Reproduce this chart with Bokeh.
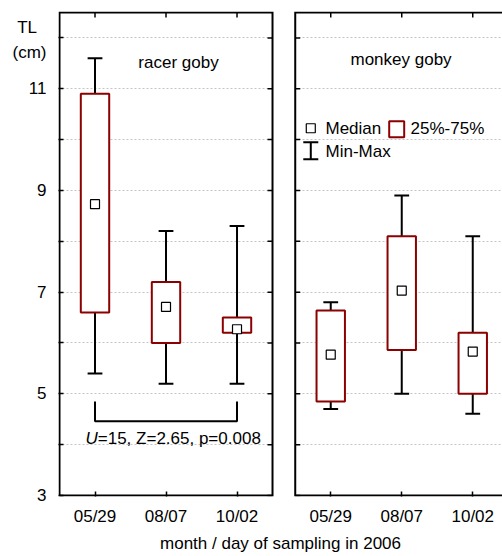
from bokeh.plotting import figure
from bokeh.models import Range1d, FixedTicker, Label, Title
from bokeh.embed import file_html
from bokeh.resources import INLINE

# ---------------- data ----------------
dates = ["05/29", "08/07", "10/02"]
species = ["racer goby", "monkey goby"]

racer_min = [5.40, 5.20, 5.20]
racer_q1 = [6.60, 6.00, 6.20]
racer_med = [8.73, 6.71, 6.27]
racer_q3 = [10.90, 7.20, 6.50]
racer_max = [11.60, 8.20, 8.30]

monkey_min = [4.70, 5.00, 4.61]
monkey_q1 = [4.85, 5.86, 5.00]
monkey_med = [5.77, 7.03, 5.83]
monkey_q3 = [6.64, 8.10, 6.20]
monkey_max = [6.80, 8.90, 8.10]

y_labeled = [3, 5, 7, 9, 11]
y_all = [3, 4, 5, 6, 7, 8, 9, 10, 11, 12]
y_title = ["TL", "(cm)"]
x_title = "month / day of sampling in 2006"
stats_text = "=15, Z=2.65, p=0.008"
compare_idx = (0, 2)  # racer goby 05/29 vs 10/02
legend_texts = ["Median", "25%-75%", "Min-Max"]

# ---------------- layout / style ----------------
FONT = "Liberation Sans"
FS = "17px"
BOX_RED = "#8b0000"
PANEL_OFF = [0.0, 3.32]
PANEL_W = 3.0
Y0, Y1 = 3.0, 12.5
X_END = 6.239
BOX_HALF = 0.2
CAP_HALF = 0.104
PXX, PXY = 71.0, 51.26  # px per unit (used only for 1px frame margins)

p = figure(width=502, height=556,
           x_range=Range1d(-1 / PXX, X_END), y_range=Range1d(Y0 - 1 / PXY, Y1 + 1 / PXY),
           output_backend="svg", toolbar_location=None,
           min_border_left=58, min_border_right=0,
           min_border_top=11, min_border_bottom=56)
p.outline_line_color = None
p.xgrid.visible = False
p.ygrid.ticker = FixedTicker(ticks=y_all)
p.ygrid.grid_line_color = "#c4c4c4"
p.ygrid.grid_line_dash = "2 2"
p.ygrid.grid_line_width = 1

# category positions
xcats = []
xlabels = {}
for off in PANEL_OFF:
    for i, d in enumerate(dates):
        xv = round(off + i + 0.5, 4)
        xcats.append(xv)
        xlabels[xv] = d

# left y axis: numbers plus the "TL (cm)" title as tick labels
TL_Y = [12.207, 11.706]
ylabels = {v: str(v) for v in y_labeled}
ylabels[TL_Y[0]] = y_title[0] + "\u00a0\u00a0"
ylabels[TL_Y[1]] = y_title[1]
ya = p.yaxis[0]
ya.ticker = FixedTicker(ticks=y_labeled + TL_Y, minor_ticks=y_all)
ya.major_label_overrides = ylabels
ya.axis_line_color = None
ya.major_tick_in = 0
ya.major_tick_out = 0
ya.minor_tick_in = 5
ya.minor_tick_out = 0
ya.minor_tick_line_width = 1.5
ya.major_label_standoff = 12
ya.major_label_text_font = FONT
ya.major_label_text_font_size = FS
ya.major_label_text_color = "black"

# bottom x axis
xa = p.xaxis[0]
xa.ticker = FixedTicker(ticks=xcats)
xa.major_label_overrides = xlabels
xa.axis_line_color = None
xa.major_tick_in = 5
xa.major_tick_out = 0
xa.major_tick_line_width = 1.5
xa.minor_tick_line_color = None
xa.major_label_standoff = 10
xa.major_label_text_font = FONT
xa.major_label_text_font_size = FS
xa.major_label_text_color = "black"

# x title
xt = Title(text=x_title, align="center", offset=13, standoff=7,
           text_font=FONT, text_font_size=FS, text_font_style="normal", text_color="black")
p.add_layout(xt, "below")

# gap between panels (covers the grid)
p.quad(left=[PANEL_W], right=[PANEL_OFF[1]], bottom=[Y0 - 0.2], top=[Y1 + 0.2],
       fill_color="white", line_color=None)

# top ticks and inner panel edge ticks
p.ray(x=xcats, y=[Y1] * len(xcats), length=5, length_units="screen",
      angle=-1.5707963, line_color="black", line_width=1.5)
p.ray(x=[PANEL_W] * len(y_all), y=y_all, length=5, length_units="screen",
      angle=3.14159265, line_color="black", line_width=1.5)
p.ray(x=[PANEL_OFF[1]] * len(y_all), y=y_all, length=5, length_units="screen",
      angle=0, line_color="black", line_width=1.5)

# panel frames (right panel continues past the picture's right edge)
lx0, lx1 = PANEL_OFF[0], PANEL_OFF[0] + PANEL_W
p.line(x=[lx0, lx0, lx1, lx1, lx0], y=[Y0, Y1, Y1, Y0, Y0], line_color="black",
       line_width=2, line_join="miter")
rx0 = PANEL_OFF[1]
rx1 = X_END + 0.5
p.line(x=[rx1, rx0, rx0, rx1], y=[Y1, Y1, Y0, Y0], line_color="black", line_width=2,
       line_join="miter")

# boxes
series = [(racer_min, racer_q1, racer_med, racer_q3, racer_max),
          (monkey_min, monkey_q1, monkey_med, monkey_q3, monkey_max)]
for off, (mn, q1, md, q3, mx) in zip(PANEL_OFF, series):
    xs = [off + i + 0.5 for i in range(len(dates))]
    p.segment(x0=xs, y0=mn, x1=xs, y1=mx, line_color="black", line_width=2)
    p.segment(x0=[x - CAP_HALF for x in xs], y0=mn, x1=[x + CAP_HALF for x in xs], y1=mn,
              line_color="black", line_width=2)
    p.segment(x0=[x - CAP_HALF for x in xs], y0=mx, x1=[x + CAP_HALF for x in xs], y1=mx,
              line_color="black", line_width=2)
    p.quad(left=[x - BOX_HALF for x in xs], right=[x + BOX_HALF for x in xs],
           bottom=q1, top=q3, fill_color="white", line_color=BOX_RED, line_width=2)
    p.scatter(xs, md, marker="square", size=9, fill_color="white",
              line_color="black", line_width=1.2)

# comparison bracket
xa0 = compare_idx[0] + 0.5
xa1 = compare_idx[1] + 0.5
p.line(x=[xa0, xa0, xa1, xa1], y=[4.85, 4.46, 4.46, 4.85], line_color="black", line_width=2)


def lab(x, y, text, align="left", style="normal", xoff=0):
    p.add_layout(Label(x=x, y=y, text=text, text_align=align, text_baseline="middle",
                       text_font=FONT, text_font_size=FS, text_color="black",
                       text_font_style=style, x_offset=xoff))


lab(0.366, 4.117, "U", style="italic")
lab(0.366, 4.117, stats_text, xoff=12.3)

# panel titles
lab(1.676, 11.525, species[0], align="center")
lab(4.81, 11.58, species[1], align="center")

# legend
lx, ly1, ly2 = 3.539, 10.223, 9.769
p.scatter([lx], [ly1], marker="square", size=9, fill_color="white",
          line_color="black", line_width=1.2)
lab(3.746, ly1, legend_texts[0])
p.rect([4.749], [10.204], width=15, height=16, width_units="screen", height_units="screen",
       fill_color="white", line_color=BOX_RED, line_width=2)
lab(4.944, ly1, legend_texts[1])
p.segment(x0=[lx], y0=[9.95], x1=[lx], y1=[9.613], line_color="black", line_width=2)
p.scatter([lx, lx], [9.95, 9.613], marker="dash", size=15, line_color="black", line_width=2)
lab(3.746, ly2, legend_texts[2])

open("out.html", "w").write(file_html(p, INLINE))
